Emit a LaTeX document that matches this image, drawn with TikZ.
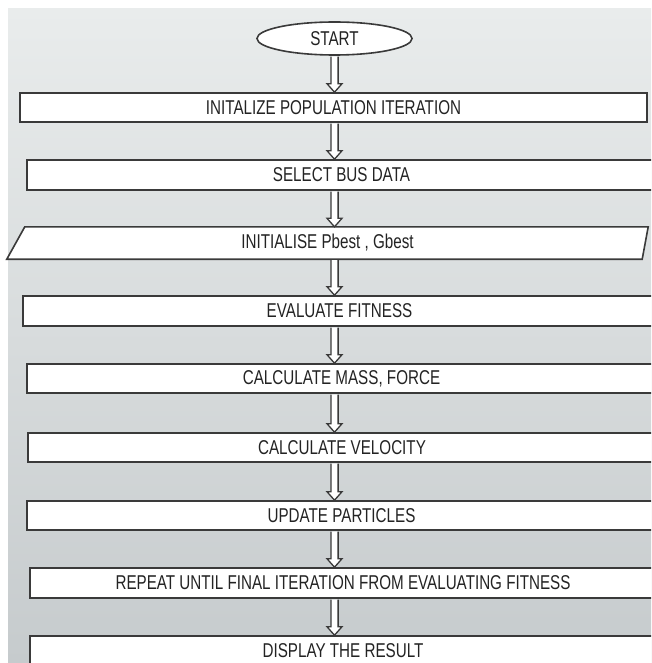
\documentclass[tikz,border=0pt]{standalone}
\usepackage{fontspec}
\setmainfont{Liberation Sans}[FakeStretch=0.76]
\usetikzlibrary{shapes.geometric, calc, backgrounds}

\definecolor{boxline}{RGB}{58,58,58}
\definecolor{boxtext}{RGB}{35,35,35}
\definecolor{bgtop}{RGB}{233,236,236}
\definecolor{bgbottom}{RGB}{198,203,205}

\tikzset{
  flowline/.style={draw=boxline, line width=1.6pt, line join=miter},
  flowtext/.style={text=boxtext, font=\fontsize{20}{22}\selectfont, inner sep=0pt},
  stepbox/.style={flowline, flowtext, rectangle, fill=white, minimum height=29pt},
  iobox/.style={flowtext, rectangle, minimum width=641pt, minimum height=32pt},
  startnode/.style={flowline, flowtext, ellipse, fill=white, minimum width=155pt, minimum height=33pt},
  arrowline/.style={draw=boxline, line width=1.3pt, fill=white, line join=miter}
}

% hollow block arrow, always on the axis of the start node
\newcommand{\flowarrow}[2]{%
  \filldraw[arrowline] let \p1=(#1.south -| start.center), \p2=(#2.north -| start.center) in
    (\x1-3.6pt,\y1-0.8pt) -- (\x1-3.6pt,\y2+8.5pt) -- (\x1-7.5pt,\y2+8.5pt) -- (\x2,\y2)
    -- (\x1+7.5pt,\y2+8.5pt) -- (\x1+3.6pt,\y2+8.5pt) -- (\x1+3.6pt,\y1-0.8pt);
}

\begin{document}
\begin{tikzpicture}[x=1pt, y=1pt]
  \clip (0,0) rectangle (651,-663);

  % Terminal and steps
  \node[startnode] (start) at (334.5,-38.5) {START};
  \node[stepbox, minimum width=627pt] (init) at (333.5,-107.5) {INITALIZE POPULATION ITERATION};
  \node[stepbox, minimum width=629pt, minimum height=30pt] (busdata) at (341.5,-175) {SELECT BUS DATA};
  \node[iobox] (pbest) at (327.5,-243) {INITIALISE Pbest , Gbest};
  \node[stepbox, minimum width=633pt, minimum height=30pt] (fitness) at (339.5,-311) {EVALUATE FITNESS};
  \node[stepbox, minimum width=629pt] (massforce) at (341.5,-378.5) {CALCULATE MASS, FORCE};
  \node[stepbox, minimum width=628pt] (velocity) at (342,-447.5) {CALCULATE VELOCITY};
  \node[stepbox, minimum width=629pt] (update) at (341.5,-515.5) {UPDATE PARTICLES};
  \node[stepbox, minimum width=626pt, minimum height=30pt] (repeat) at (343,-583) {REPEAT UNTIL FINAL ITERATION FROM EVALUATING FITNESS};
  \node[stepbox, minimum width=626pt, minimum height=30pt] (result) at (343,-651) {DISPLAY THE RESULT};

  % Background and input/output box
  \begin{scope}[on background layer]
    \shade[top color=bgtop, bottom color=bgbottom] (8,-9) rectangle (651,-663);
    \draw[flowline, fill=white] (pbest.south west) -- ([xshift=18pt]pbest.north west)
      -- (pbest.north east) -- ([xshift=-6pt]pbest.south east) -- cycle;
  \end{scope}

  % Arrows
  \flowarrow{start}{init}
  \flowarrow{init}{busdata}
  \flowarrow{busdata}{pbest}
  \flowarrow{pbest}{fitness}
  \flowarrow{fitness}{massforce}
  \flowarrow{massforce}{velocity}
  \flowarrow{velocity}{update}
  \flowarrow{update}{repeat}
  \flowarrow{repeat}{result}
\end{tikzpicture}
\end{document}
